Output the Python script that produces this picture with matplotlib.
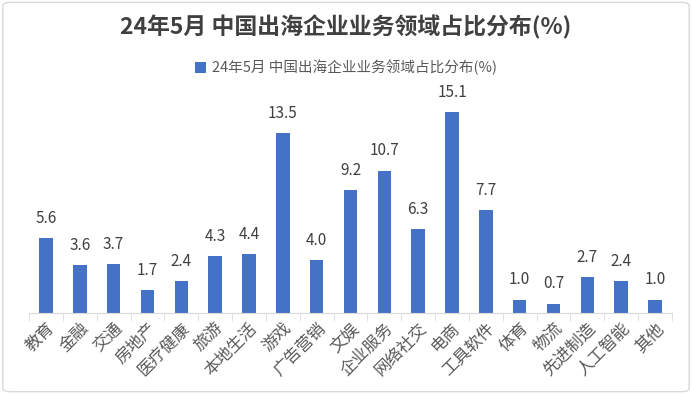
import matplotlib.pyplot as plt
from matplotlib.patches import FancyBboxPatch
import numpy as np

plt.rcParams['font.family'] = ['Noto Sans CJK SC', 'DejaVu Sans']

# data
categories = ["教育", "金融", "交通", "房地产", "医疗健康", "旅游", "本地生活", "游戏", "广告营销", "文娱",
              "企业服务", "网络社交", "电商", "工具软件", "体育", "物流", "先进制造", "人工智能", "其他"]
shares = [5.6, 3.6, 3.7, 1.7, 2.4, 4.3, 4.4, 13.5, 4.0, 9.2,
          10.7, 6.3, 15.1, 7.7, 1.0, 0.7, 2.7, 2.4, 1.0]
title = "24年5月 中国出海企业业务领域占比分布(%)"

fig = plt.figure(figsize=(6.92, 3.94), dpi=100)
ax = fig.add_axes([0.042, 0.206, 0.929, 0.54])

x = np.arange(len(categories))
bars = ax.bar(x, shares, width=0.4, color="#4472C4", label=title, zorder=2)

for b, v in zip(bars, shares):
    ax.annotate(f"{v:.1f}", (b.get_x() + b.get_width() / 2, v), xytext=(0, 8),
                textcoords="offset points", ha="center", va="bottom",
                fontsize=11, color="#404040")

ax.set_xlim(-0.5, len(categories) - 0.5)
ax.set_ylim(0, 16)
ax.set_yticks([])
for s in ["top", "right", "left"]:
    ax.spines[s].set_visible(False)
ax.spines["bottom"].set_color("#D9D9D9")

# labels on the bars, small tick marks between the categories
ax.set_xticks(x)
ax.set_xticklabels(categories, rotation=45, ha="right", rotation_mode="anchor",
                   fontsize=12, color="#595959")
ax.tick_params(axis="x", which="major", length=0, pad=5)
ax.set_xticks(np.arange(-0.5, len(categories), 1), minor=True)
ax.tick_params(axis="x", which="minor", length=6, color="#D9D9D9")

fig.text(0.5, 0.93, title, ha="center", va="center", fontsize=16.5,
         fontweight="bold", color="#404040")
fig.legend(loc="center", bbox_to_anchor=(0.5, 0.828), frameon=False, fontsize=10.5,
           handlelength=0.7, handleheight=0.7, handletextpad=0.4, labelcolor="#595959")

# rounded light border round the whole chart
fig.patches.append(FancyBboxPatch((0.004, 0.006), 0.992, 0.988, boxstyle="round,pad=0,rounding_size=0.01",
                                  transform=fig.transFigure, fill=False, edgecolor="#D9D9D9", linewidth=1))

fig.savefig("out.png", dpi=100)
